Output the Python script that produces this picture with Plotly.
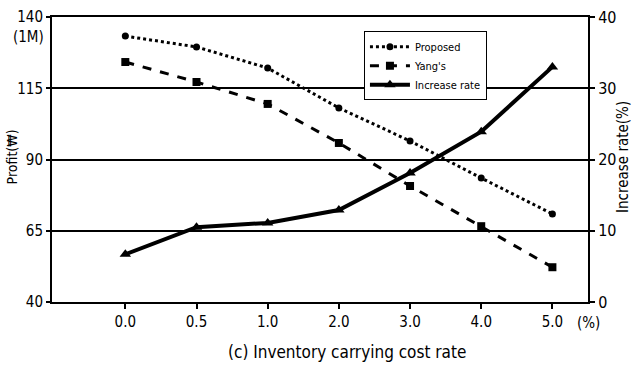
import plotly.graph_objects as go

categories = ["0.0", "0.5", "1.0", "2.0", "3.0", "4.0", "5.0"]
proposed = [133.3, 129.5, 122.1, 108.1, 96.5, 83.5, 70.9]
yangs = [124.2, 117.2, 109.5, 95.8, 80.7, 66.6, 52.2]
increase_rate = [6.7, 10.5, 11.1, 12.9, 18.1, 23.9, 33.0]
profit_ticks = [40, 65, 90, 115, 140]
rate_ticks = [0, 10, 20, 30, 40]

FONT = "DejaVu Sans Condensed, Liberation Sans Narrow, Roboto, sans-serif"

fig = go.Figure()
fig.add_trace(go.Scatter(
    x=categories, y=proposed, name="Proposed", mode="lines+markers",
    line=dict(color="black", width=3, dash="dot"),
    marker=dict(symbol="circle", size=7, color="black"),
))
fig.add_trace(go.Scatter(
    x=categories, y=yangs, name="Yang's", mode="lines+markers",
    line=dict(color="black", width=3, dash="dash"),
    marker=dict(symbol="square", size=8, color="black"),
))
fig.add_trace(go.Scatter(
    x=categories, y=increase_rate, name="Increase rate", mode="lines+markers",
    yaxis="y2",
    line=dict(color="black", width=4),
    marker=dict(symbol="triangle-up", size=10, color="black"),
))

fig.update_layout(
    width=635, height=365,
    margin=dict(l=52, r=47, t=17, b=63, autoexpand=False),
    paper_bgcolor="white", plot_bgcolor="white",
    font=dict(family=FONT, size=15, color="black"),
    showlegend=True,
    legend=dict(
        x=0.582, y=0.95, xanchor="left", yanchor="top",
        bordercolor="black", borderwidth=1, bgcolor="white",
        font=dict(size=11, family=FONT),
        tracegroupgap=0, itemwidth=40,
    ),
    xaxis=dict(
        type="category", range=[-1.03, 6.5], automargin=False,
        showline=True, linecolor="black", linewidth=2, mirror=True,
        ticks="outside", ticklen=5, tickcolor="black", tickwidth=1.5,
        showgrid=False, zeroline=False,
        tickfont=dict(size=15),
    ),
    yaxis=dict(
        range=[40, 140], tickvals=profit_ticks, automargin=False,
        showline=True, linecolor="black", linewidth=2,
        ticks="outside", ticklen=4, tickcolor="black", tickwidth=1.5,
        showgrid=True, gridcolor="black", gridwidth=1.5,
        zeroline=False,
        tickfont=dict(size=15),
    ),
    yaxis2=dict(
        range=[0, 40], tickvals=rate_ticks, overlaying="y", side="right",
        automargin=False,
        showline=True, linecolor="black", linewidth=2,
        ticks="outside", ticklen=5, tickcolor="black", tickwidth=1.5,
        showgrid=False, zeroline=False,
        tickfont=dict(size=16),
    ),
)

fig.add_annotation(text="Profit(₩)", xref="paper", yref="paper", x=-0.075, y=0.51,
                   xanchor="center", yanchor="middle", textangle=-90, showarrow=False,
                   font=dict(size=14, family=FONT))
fig.add_annotation(text="Increase rate(%)", xref="paper", yref="paper", x=1.064, y=0.51,
                   xanchor="center", yanchor="middle", textangle=-90, showarrow=False,
                   font=dict(size=15, family=FONT))
fig.add_annotation(text="(1M)", xref="paper", yref="paper", x=-0.012, y=0.93,
                   xanchor="right", yanchor="middle", showarrow=False,
                   font=dict(size=15, family=FONT))
fig.add_annotation(text="(%)", xref="paper", yref="paper", x=1.0, y=-0.074,
                   xanchor="center", yanchor="middle", showarrow=False,
                   font=dict(size=15, family=FONT))
fig.add_annotation(text="(c) Inventory carrying cost rate", xref="paper", yref="paper",
                   x=0.55, y=-0.175, xanchor="center", yanchor="middle", showarrow=False,
                   font=dict(size=17, family=FONT))

fig.write_html("out.html", config={"displayModeBar": False},
               post_script="document.body.style.margin='0';document.body.style.overflow='hidden';")
